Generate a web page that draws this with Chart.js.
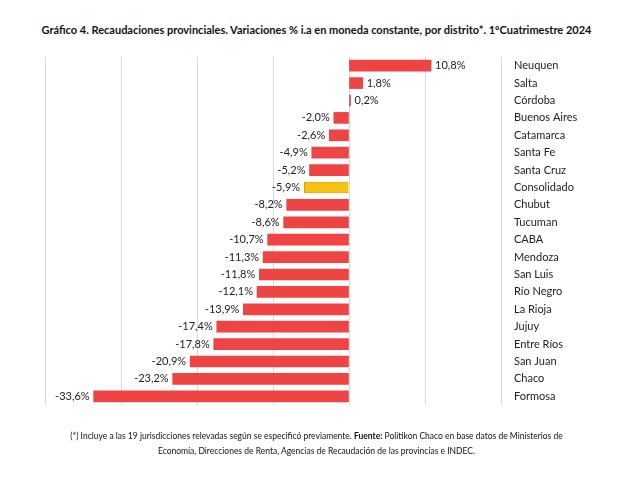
<!DOCTYPE html>
<html lang="es">
<head>
<meta charset="UTF-8">
<script src="https://cdn.jsdelivr.net/npm/chart.js@4.4.1/dist/chart.umd.min.js"></script>
<style>
  body { margin: 0; background: #fff; font-family: Lato, "Liberation Sans", sans-serif; }
  #wrap { position: relative; width: 633px; height: 479px; }
  #title { position: absolute; top: 23px; left: 0; width: 633px; text-align: center; font-size: 11px; font-weight: bold; color: #111; }
  #note { position: absolute; top: 429px; left: 0; width: 633px; text-align: center; font-size: 8.5px; line-height: 15px; color: #111; }
  canvas { position: absolute; top: 0; left: 0; }
</style>
</head>
<body>
<div id="wrap">
  <div id="title">Gráfico 4. Recaudaciones provinciales. Variaciones % i.a en moneda constante, por distrito*. 1ºCuatrimestre 2024</div>
  <canvas id="c" width="633" height="479"></canvas>
  <div id="note">(*) Incluye a las 19 jurisdicciones relevadas según se especificó previamente. <b>Fuente:</b> Politikon Chaco en base datos de Ministerios de<br>Economía, Direcciones de Renta, Agencias de Recaudación de las provincias e INDEC.</div>
</div>
<script>
const categories = ['Neuquen','Salta','Córdoba','Buenos Aires','Catamarca','Santa Fe','Santa Cruz','Consolidado','Chubut','Tucuman','CABA','Mendoza','San Luis','Río Negro','La Rioja','Jujuy','Entre Ríos','San Juan','Chaco','Formosa'];
const values = [10.8, 1.8, 0.2, -2.0, -2.6, -4.9, -5.2, -5.9, -8.2, -8.6, -10.7, -11.3, -11.8, -12.1, -13.9, -17.4, -17.8, -20.9, -23.2, -33.6];
const colors = categories.map(c => c === 'Consolidado' ? '#F5C211' : '#EF4444');

const valueLabels = {
  id: 'valueLabels',
  afterDatasetsDraw(chart) {
    const ctx = chart.ctx;
    const meta = chart.getDatasetMeta(0);
    ctx.save();
    ctx.font = '11px Lato, "Liberation Sans", sans-serif';
    ctx.fillStyle = '#222';
    ctx.textBaseline = 'middle';
    meta.data.forEach((bar, i) => {
      const v = values[i];
      const txt = v.toFixed(1).replace('.', ',') + '%';
      if (v >= 0) { ctx.textAlign = 'left'; ctx.fillText(txt, bar.x + 4, bar.y); }
      else { ctx.textAlign = 'right'; ctx.fillText(txt, bar.x - 4, bar.y); }
    });
    ctx.restore();
  }
};

new Chart(document.getElementById('c'), {
  type: 'bar',
  data: { labels: categories, datasets: [{ data: values, backgroundColor: colors, borderColor: colors.map(c => c === '#F5C211' ? '#8a6d00' : c), borderWidth: colors.map(c => c === '#F5C211' ? 0.5 : 0), barThickness: 11 }] },
  options: {
    indexAxis: 'y',
    responsive: false,
    animation: false,
    layout: { padding: { left: 45, top: 57, bottom: 74, right: 0 } },
    plugins: { legend: { display: false }, tooltip: { enabled: false } },
    scales: {
      x: { min: -40, max: 20, ticks: { display: false, stepSize: 10 }, border: { display: false }, grid: { color: '#d9d9d9', drawTicks: false } },
      y: { position: 'right', grid: { display: false }, border: { display: false },
           ticks: { color: '#222', padding: 5, font: { size: 11, family: 'Lato, "Liberation Sans", sans-serif' } },
           afterFit(s) { s.width = 132; } }
    }
  },
  plugins: [valueLabels]
});
</script>
</body>
</html>
